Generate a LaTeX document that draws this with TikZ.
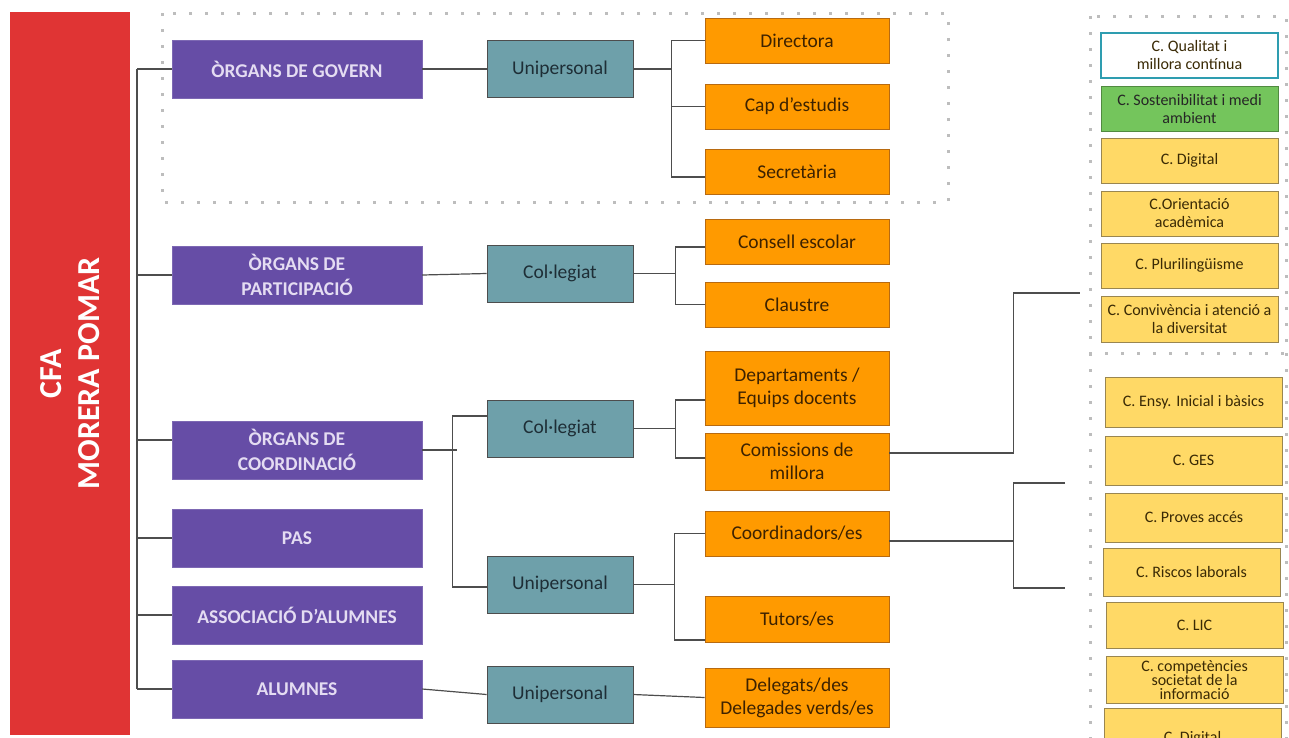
\documentclass[tikz,border=0pt]{standalone}
\usepackage{fontspec}
\setmainfont{Carlito}
\definecolor{cfared}{HTML}{E03434}
\definecolor{organfill}{HTML}{664DA6}
\definecolor{organtxt}{HTML}{E4DCF2}
\definecolor{kindfill}{HTML}{6EA0AA}
\definecolor{kindtxt}{HTML}{1E2E36}
\definecolor{rolefill}{HTML}{FF9A00}
\definecolor{roleline}{HTML}{B86A10}
\definecolor{roletxt}{HTML}{3D2200}
\definecolor{commfill}{HTML}{FFD966}
\definecolor{commline}{HTML}{9A8650}
\definecolor{commtxt}{HTML}{3A2A05}
\definecolor{sostfill}{HTML}{74C55C}
\definecolor{qualline}{HTML}{2E9DB0}
\definecolor{wiregray}{HTML}{4D4D4D}
\definecolor{dotgray}{HTML}{BDBDBD}
\begin{document}
\begin{tikzpicture}[x=1pt, y=-1pt,
    every node/.style={rectangle, align=center, inner sep=0pt},
    cfabox/.style={fill=cfared, text=white, rotate=90, minimum width=723pt, minimum height=120pt, font=\fontsize{32}{38}\selectfont\bfseries},
    organbox/.style={draw=organfill!85!white, fill=organfill, text=organtxt, minimum width=250pt, minimum height=58pt, font=\fontsize{19.5}{25}\selectfont\bfseries},
    kindbox/.style={draw=wiregray, line width=0.8pt, fill=kindfill, text=kindtxt, minimum width=146pt, minimum height=57pt, font=\fontsize{19.5}{23}\selectfont},
    rolebox/.style={draw=roleline, line width=0.8pt, fill=rolefill, text=roletxt, minimum width=184pt, font=\fontsize{19.5}{23}\selectfont},
    commbox/.style={draw=commline, line width=0.8pt, fill=commfill, text=commtxt, minimum width=177pt, font=\fontsize{16}{18}\selectfont},
    wire/.style={draw=wiregray, line width=1.2pt},
    dotline/.style={draw=dotgray, line width=3pt, dash pattern=on 3pt off 13pt}]
    \useasboundingbox (0,0) rectangle (1289,737);

    % Dotted frames.
    \draw[dotline] (162,13) rectangle (948,202);
    \draw[dotline] (1090,16) rectangle (1286,353);
    \draw[dotline] (1090,353) -- (1090,760);
    \draw[dotline] (1286,353) -- (1286,760);

    % Centre.
    \node[cfabox] (cfa) at (70,373.5) {CFA\\MORERA POMAR};

    % Organs.
    \foreach \nm/\y/\txt in {gov/69/ÒRGANS DE GOVERN, par/275/{ÒRGANS DE\\PARTICIPACIÓ}, crd/450/{ÒRGANS DE\\COORDINACIÓ}, pas/538/PAS, aso/615/ASSOCIACIÓ D’ALUMNES, alu/689/ALUMNES}
        \node[organbox] (\nm) at (297,\y) {\txt};

    % Kind of organ.
    \foreach \nm/\y/\txt in {uni-1/69/Unipersonal, col-1/273.5/Col·legiat, col-2/428.5/Col·legiat, uni-2/584.5/Unipersonal, uni-3/694.5/Unipersonal}
        \node[kindbox] (\nm) at (560,\y) {\txt};

    % Roles.
    \foreach \nm/\y/\h/\txt in {dir/40.5/45/Directora, cap/106.5/45/Cap d’estudis, sec/171.5/45/Secretària, con/241.5/45/Consell escolar, cla/304.5/45/Claustre, dep/388/74/{Departaments /\\Equips docents}, com/461.5/57/{Comissions de\\millora}, coo/533.5/45/{Coordinadors/es}, tut/619/46/{Tutors/es}, del/697.5/59/{Delegats/des\\Delegades verds/es}}
        \node[rolebox, minimum height=\h pt] (\nm) at (797,\y) {\txt};

    % Commissions.
    \node[commbox, fill=white, draw=qualline, line width=2.5pt, minimum height=45pt] (c-1) at (1189.5,55.5) {C. Qualitat i\\millora contínua};
    \node[commbox, fill=sostfill, draw=sostfill!70!black, text=black!85, minimum height=45pt] (c-2) at (1189.5,108.5) {C. Sostenibilitat i medi\\ambient};
    \foreach \nm/\x/\y/\h/\txt in {c-3/1189.5/160.5/45/C. Digital, c-4/1189.5/213.5/45/{C.Orientació\\acadèmica}, c-5/1189.5/265.5/45/C. Plurilingüisme, c-6/1189.5/319/46/{C. Convivència i atenció a\\la diversitat}, r-1/1193.5/402/50/C. Ensy. Inicial i bàsics, r-2/1193.5/460.5/49/C. GES, r-3/1194/517.5/49/C. Proves accés, r-4/1191.5/572/48/C. Riscos laborals, r-5/1194.5/625/46/C. LIC, r-7/1192.5/738/60/C. Digital}
        \node[commbox, minimum height=\h pt] (\nm) at (\x,\y) {\txt};
    \node[commbox, minimum height=47pt, font=\fontsize{16}{14}\selectfont] (r-6) at (1194.5,680) {C. competències\\societat de la\\informació};

    % Trunk.
    \coordinate (trunk) at (137,0);
    \draw[wire] (trunk |- gov.west) -- (trunk |- alu.west);
    \foreach \nm in {gov,par,pas,aso,alu}
        \draw[wire] (trunk |- \nm.west) -- (\nm.west);
    \draw[wire] ([yshift=10pt]crd.west) -- ++(-35,0);

    % Organs to kinds.
    \draw[wire] (gov.east) -- (uni-1.west);
    \draw[wire] (par.east) -- (col-1.west);
    \draw[wire] (alu.east) -- (uni-3.west);
    \draw[wire] (crd.east) -- ++(35,0);
    \draw[wire] ([yshift=12.5pt]col-2.west) -- ++(-34,0) |- ([yshift=-2.5pt]uni-2.west);

    % Kinds to roles.
    \draw[wire] (uni-1.east) -- ++(38,0) coordinate (b-1);
    \draw[wire] (dir.west) -| (b-1) |- ([yshift=-5.5pt]sec.west);
    \draw[wire] (b-1 |- cap.west) -- (cap.west);
    \draw[wire] (col-1.east) -- ++(42,0) coordinate (b-2);
    \draw[wire] ([yshift=-5.5pt]con.west) -| (b-2) |- (cla.west);
    \draw[wire] (col-2.east) -- ++(42,0) coordinate (b-3);
    \draw[wire] ([yshift=-12pt]dep.west) -| (b-3) |- ([yshift=3.5pt]com.west);
    \draw[wire] (uni-2.east) -- ++(41,0) coordinate (b-4);
    \draw[wire] (coo.west) -| (b-4) |- ([yshift=-21pt]tut.west);
    \draw[wire] (uni-3.east) -- (del.west);

    % Roles to commissions.
    \coordinate (pan-1) at (1080,293);
    \coordinate (pan-2) at (1065,483);
    \coordinate (pan-3) at (1065,588);
    \draw[wire] ([yshift=8.5pt]com.east) -- ++(124,0) |- (pan-1);
    \draw[wire] ([yshift=-7.5pt]coo.east) -- ++(124,0) coordinate (b-6);
    \draw[wire] (pan-2) -| (b-6) |- (pan-3);

\end{tikzpicture}
\end{document}
